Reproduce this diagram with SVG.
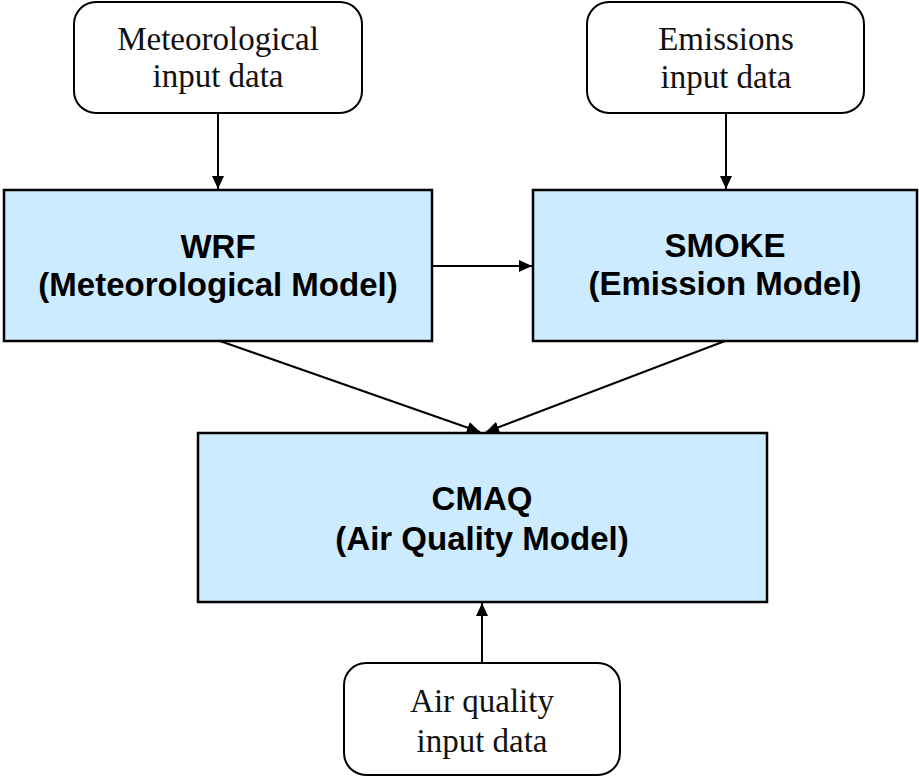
<svg xmlns="http://www.w3.org/2000/svg" width="919" height="778" viewBox="0 0 919 778">
  <style>
    .input { fill: #ffffff; stroke: #000000; stroke-width: 2; }
    .model { fill: #cdebff; stroke: #000000; stroke-width: 2.5; }
    .serif { font-family: "Liberation Serif", "Times New Roman", serif; font-size: 33px; fill: #111111; text-anchor: middle; }
    .bold { font-family: "Liberation Sans", Arial, sans-serif; font-size: 33px; font-weight: bold; fill: #000000; text-anchor: middle; }
    .edge { stroke: #000000; stroke-width: 2; fill: none; marker-end: url(#arrow); }
  </style>
  <defs>
    <marker id="arrow" viewBox="0 0 13 12" refX="13" refY="6" markerWidth="13" markerHeight="12" markerUnits="userSpaceOnUse" orient="auto">
      <path d="M0,0 L13,6 L0,12 Z" fill="#000000"/>
    </marker>
  </defs>

  <rect width="919" height="778" fill="#ffffff"/>

  <!-- connectors -->
  <g id="connectors">
    <line class="edge" x1="218" y1="113" x2="218" y2="189"/>
    <line class="edge" x1="726" y1="113" x2="726" y2="189"/>
    <line class="edge" x1="432" y1="266" x2="532" y2="266"/>
    <line class="edge" x1="220" y1="341" x2="480" y2="432"/>
    <line class="edge" x1="725" y1="341" x2="486" y2="432"/>
    <line class="edge" x1="482" y1="663" x2="482" y2="603"/>
  </g>

  <!-- input data sources -->
  <g id="met-input">
    <rect class="input" x="74" y="2" width="288" height="111" rx="22" ry="22"/>
    <text class="serif" x="218" y="50">Meteorological</text>
    <text class="serif" x="218" y="87">input data</text>
  </g>

  <g id="emis-input">
    <rect class="input" x="587" y="2" width="277" height="111" rx="22" ry="22"/>
    <text class="serif" x="726" y="50">Emissions</text>
    <text class="serif" x="726" y="88">input data</text>
  </g>

  <g id="aq-input">
    <rect class="input" x="344" y="663" width="276" height="112" rx="22" ry="22"/>
    <text class="serif" x="482" y="712">Air quality</text>
    <text class="serif" x="482" y="752">input data</text>
  </g>

  <!-- models -->
  <g id="wrf">
    <rect class="model" x="4" y="190" width="428" height="151"/>
    <text class="bold" x="218" y="258">WRF</text>
    <text class="bold" x="218" y="296">(Meteorological Model)</text>
  </g>

  <g id="smoke">
    <rect class="model" x="533" y="190" width="384" height="151"/>
    <text class="bold" x="725" y="257">SMOKE</text>
    <text class="bold" x="725" y="295">(Emission Model)</text>
  </g>

  <g id="cmaq">
    <rect class="model" x="198" y="433" width="569" height="169"/>
    <text class="bold" x="482" y="510">CMAQ</text>
    <text class="bold" x="482" y="550">(Air Quality Model)</text>
  </g>
</svg>
